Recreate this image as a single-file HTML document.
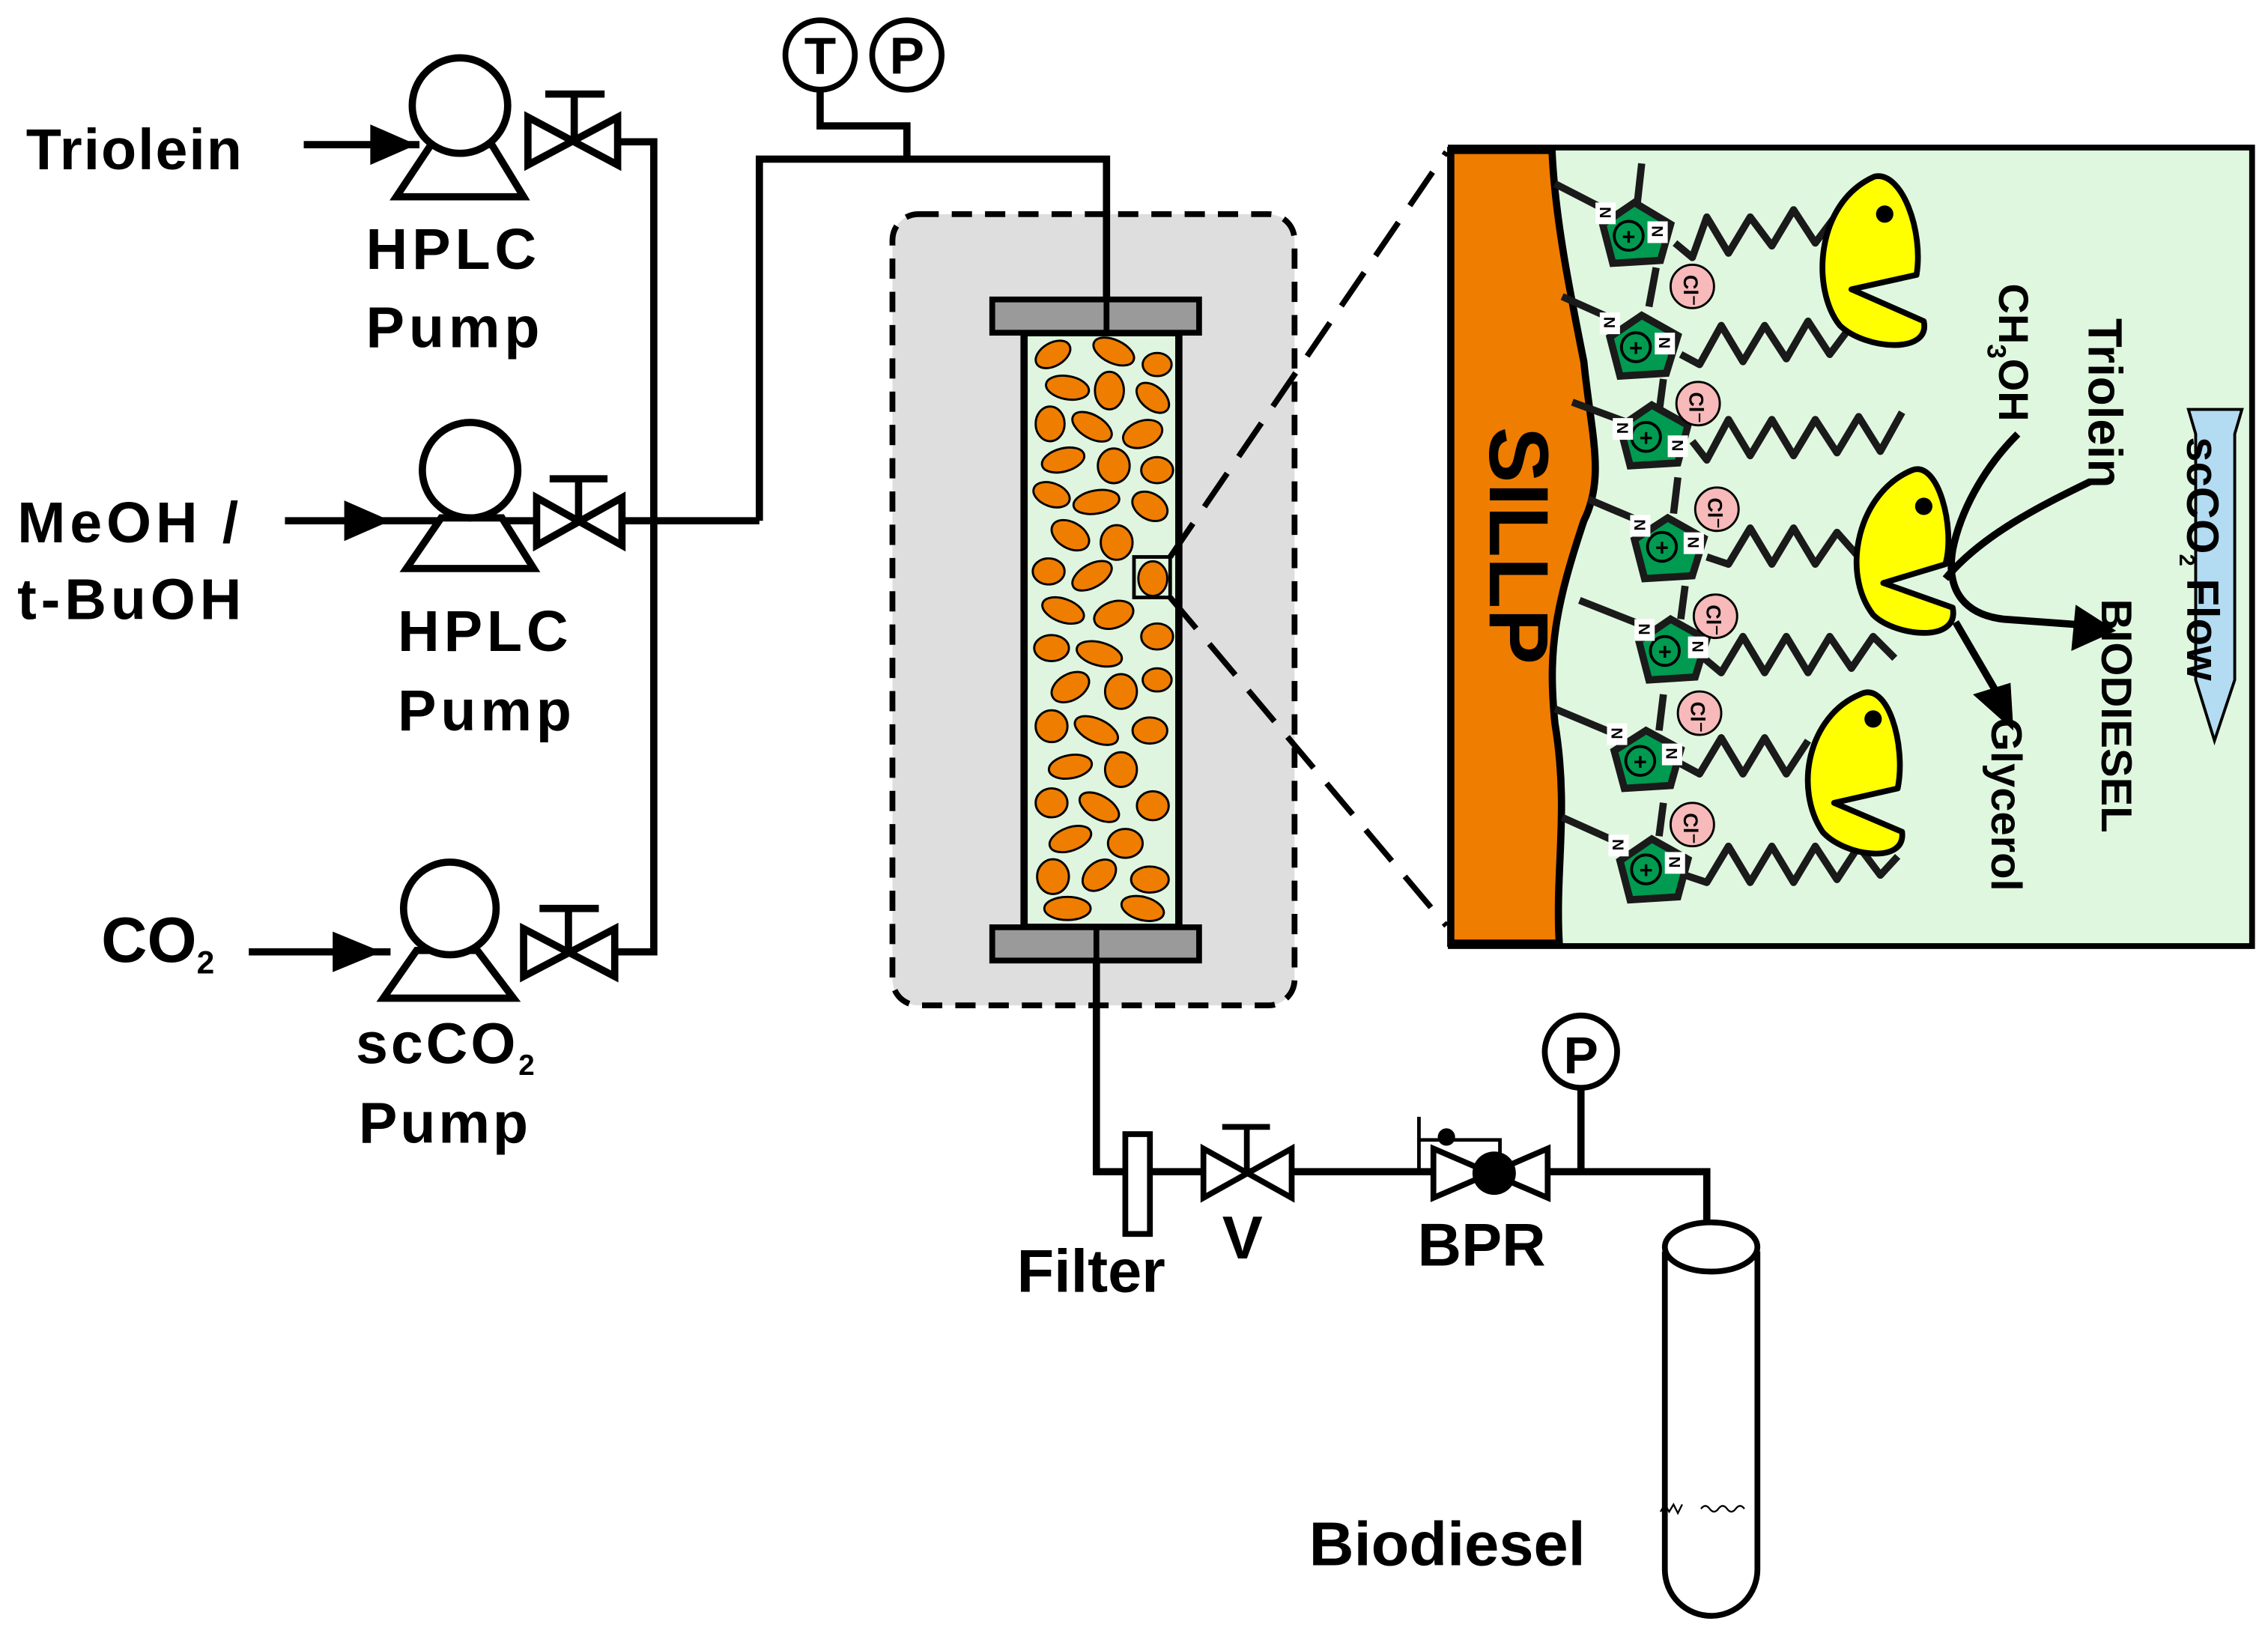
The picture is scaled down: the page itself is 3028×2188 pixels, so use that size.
<!DOCTYPE html>
<html><head><meta charset="utf-8"><style>
html,body{margin:0;padding:0;background:#fff;}
svg{display:block;}
text{font-family:"Liberation Sans",Arial,sans-serif;font-weight:bold;fill:#000;}
</style></head><body>
<svg width="3028" height="2188" viewBox="0 0 1568 1133" xmlns="http://www.w3.org/2000/svg">
<g fill="none" stroke="#000" stroke-width="5" stroke-linejoin="miter">
<line x1="210" y1="100" x2="290" y2="100"/>
<line x1="197" y1="360" x2="525" y2="360"/>
<line x1="172" y1="658" x2="270" y2="658"/>
<polyline points="425,98 452,98 452,658 425,658"/>
<polyline points="525,360 525,110 765,110 765,150"/>
<polyline points="567,62 567,87 627,87 627,110"/>
</g>
<g fill="#000">
<polygon points="256,86 288,100 256,114"/>
<polygon points="238,346 270,360 238,374"/>
<polygon points="230,644 264,658 230,672"/>
</g>
<g fill="#fff" stroke="#000" stroke-width="5">
<polygon points="298,100 340,100 362,136 274,136"/>
<circle cx="318" cy="73" r="33"/>
<polygon points="305,358 347,358 369,393 281,393"/>
<circle cx="325" cy="325" r="33"/>
<polygon points="288,657 330,657 355,690 265,690"/>
<circle cx="311" cy="628" r="32"/>
<polygon points="365,81 427,114 427,81 365,114"/>
<polygon points="371,344 430,377 430,344 371,377"/>
<polygon points="362,642 425,675 425,642 362,675"/>
</g>
<g stroke="#000" stroke-width="5" fill="none">
<path d="M397,97V65M377,65H418"/>
<path d="M400,360V331M380,331H420"/>
<path d="M393,658V628M373,628H414"/>
</g>
<text x="18" y="117" font-size="40" letter-spacing="1">Triolein</text>
<text x="253" y="186" font-size="40" letter-spacing="3">HPLC</text>
<text x="253" y="240" font-size="40" letter-spacing="3">Pump</text>
<text x="12" y="375" font-size="40" letter-spacing="3">MeOH /</text>
<text x="12" y="428" font-size="40" letter-spacing="3">t-BuOH</text>
<text x="275" y="450" font-size="40" letter-spacing="3">HPLC</text>
<text x="275" y="505" font-size="40" letter-spacing="3">Pump</text>
<text x="70" y="665" font-size="44">CO<tspan font-size="22" dy="8">2</tspan></text>
<text x="246" y="735" font-size="40" letter-spacing="2">scCO<tspan font-size="20" dy="8">2</tspan></text>
<text x="248" y="790" font-size="40" letter-spacing="2">Pump</text>
<g fill="#fff" stroke="#000" stroke-width="4"><circle cx="567" cy="38" r="24"/><circle cx="627" cy="38" r="24"/></g>
<text x="567" y="51" font-size="36" text-anchor="middle">T</text>
<text x="627" y="51" font-size="36" text-anchor="middle">P</text>
<rect x="617" y="148" width="278" height="547" rx="18" fill="#dedede" stroke="#000" stroke-width="4" stroke-dasharray="14,9"/>
<line x1="765" y1="146" x2="765" y2="210" stroke="#000" stroke-width="5"/>
<rect x="708" y="230" width="107" height="411" fill="#dff5df" stroke="#000" stroke-width="5"/>
<g fill="#ef7d00" stroke="#000" stroke-width="1.5">
<ellipse cx="728" cy="245" rx="13" ry="8" transform="rotate(-30 728 245)"/>
<ellipse cx="770" cy="243" rx="15" ry="8" transform="rotate(25 770 243)"/>
<ellipse cx="800" cy="252" rx="10" ry="8"/>
<ellipse cx="738" cy="268" rx="15" ry="8" transform="rotate(10 738 268)"/>
<ellipse cx="767" cy="270" rx="10" ry="13"/>
<ellipse cx="797" cy="275" rx="13" ry="8" transform="rotate(40 797 275)"/>
<ellipse cx="726" cy="293" rx="10" ry="12"/>
<ellipse cx="755" cy="295" rx="15" ry="8" transform="rotate(30 755 295)"/>
<ellipse cx="790" cy="300" rx="14" ry="9" transform="rotate(-20 790 300)"/>
<ellipse cx="735" cy="318" rx="15" ry="8" transform="rotate(-15 735 318)"/>
<ellipse cx="770" cy="322" rx="11" ry="12"/>
<ellipse cx="800" cy="325" rx="11" ry="9"/>
<ellipse cx="727" cy="342" rx="13" ry="8" transform="rotate(20 727 342)"/>
<ellipse cx="758" cy="347" rx="16" ry="8" transform="rotate(-10 758 347)"/>
<ellipse cx="795" cy="350" rx="13" ry="9" transform="rotate(30 795 350)"/>
<ellipse cx="740" cy="370" rx="14" ry="9" transform="rotate(30 740 370)"/>
<ellipse cx="772" cy="375" rx="11" ry="12"/>
<ellipse cx="725" cy="395" rx="11" ry="9"/>
<ellipse cx="755" cy="398" rx="15" ry="8" transform="rotate(-30 755 398)"/>
<ellipse cx="797" cy="400" rx="10" ry="12"/>
<ellipse cx="735" cy="422" rx="15" ry="8" transform="rotate(20 735 422)"/>
<ellipse cx="770" cy="425" rx="14" ry="9" transform="rotate(-20 770 425)"/>
<ellipse cx="800" cy="440" rx="11" ry="9"/>
<ellipse cx="727" cy="448" rx="12" ry="9"/>
<ellipse cx="760" cy="452" rx="16" ry="8" transform="rotate(15 760 452)"/>
<ellipse cx="740" cy="475" rx="14" ry="9" transform="rotate(-30 740 475)"/>
<ellipse cx="775" cy="478" rx="11" ry="12"/>
<ellipse cx="800" cy="470" rx="10" ry="8"/>
<ellipse cx="727" cy="502" rx="11" ry="11"/>
<ellipse cx="758" cy="505" rx="16" ry="8" transform="rotate(25 758 505)"/>
<ellipse cx="795" cy="505" rx="12" ry="9"/>
<ellipse cx="740" cy="530" rx="15" ry="8" transform="rotate(-10 740 530)"/>
<ellipse cx="775" cy="532" rx="11" ry="12"/>
<ellipse cx="727" cy="555" rx="11" ry="10"/>
<ellipse cx="760" cy="558" rx="15" ry="8" transform="rotate(30 760 558)"/>
<ellipse cx="797" cy="557" rx="11" ry="10"/>
<ellipse cx="740" cy="580" rx="15" ry="8" transform="rotate(-20 740 580)"/>
<ellipse cx="778" cy="583" rx="12" ry="10"/>
<ellipse cx="728" cy="606" rx="11" ry="12"/>
<ellipse cx="760" cy="605" rx="13" ry="9" transform="rotate(-40 760 605)"/>
<ellipse cx="795" cy="608" rx="13" ry="9"/>
<ellipse cx="738" cy="628" rx="16" ry="8"/>
<ellipse cx="790" cy="628" rx="15" ry="8" transform="rotate(15 790 628)"/>
</g>
<rect x="686" y="207" width="143" height="23" fill="#9a9a9a" stroke="#000" stroke-width="4"/>
<rect x="686" y="641" width="143" height="23" fill="#9a9a9a" stroke="#000" stroke-width="4"/>
<line x1="765" y1="205" x2="765" y2="232" stroke="#000" stroke-width="4"/>
<line x1="758" y1="640" x2="758" y2="666" stroke="#000" stroke-width="4"/>
<rect x="784" y="385" width="25" height="28" fill="none" stroke="#000" stroke-width="2.5"/>
<g stroke="#000" stroke-width="4" stroke-dasharray="28,14" fill="none">
<line x1="809" y1="385" x2="1000" y2="105"/>
<line x1="809" y1="413" x2="1000" y2="640"/>
</g>
<g fill="none" stroke="#000" stroke-width="5">
<polyline points="758,664 758,810 990,810"/>
<polyline points="1070,810 1180,810 1180,845"/>
<line x1="1093" y1="752" x2="1093" y2="810"/>
</g>
<rect x="778" y="784" width="17" height="69" fill="#fff" stroke="#000" stroke-width="4"/>
<polygon points="832,794 893,828 893,794 832,828" fill="#fff" stroke="#000" stroke-width="4"/>
<path d="M862,810V779M845,779H878" stroke="#000" stroke-width="4" fill="none"/>
<polygon points="991,794 1070,828 1070,794 991,828" fill="#fff" stroke="#000" stroke-width="4"/>
<circle cx="1033" cy="811" r="15" fill="#000"/>
<path d="M981,810V772M981,788H1037V800" stroke="#000" stroke-width="2.5" fill="none"/>
<circle cx="1000" cy="786" r="6" fill="#000"/>
<circle cx="1093" cy="727" r="25" fill="#fff" stroke="#000" stroke-width="4"/>
<text x="1093" y="742" font-size="36" text-anchor="middle">P</text>
<path d="M1151,865V1085A32,32 0 0 0 1215,1085V865" fill="#fff" stroke="#000" stroke-width="4"/>
<ellipse cx="1183" cy="862" rx="32" ry="17" fill="#fff" stroke="#000" stroke-width="4"/>
<path d="M1148,1045l3,-5 3,5 3,-5 3,6 3,-6 M1176,1043q3,-4 6,0t6,0 6,0 6,0 6,0" stroke="#000" stroke-width="1.2" fill="none"/>
<text x="703" y="893" font-size="42">Filter</text>
<text x="845" y="870" font-size="42">V</text>
<text x="980" y="875" font-size="42">BPR</text>
<text x="905" y="1082" font-size="43">Biodiesel</text>
<rect x="1003" y="102" width="554" height="552" fill="#dff7df" stroke="#000" stroke-width="4"/>
<path d="M1003,104 L1073,104 C1075,150 1085,200 1095,250 C1100,300 1110,330 1095,360 C1075,420 1070,450 1075,500 C1085,560 1075,600 1078,652 L1003,652 Z" fill="#ef7d00" stroke="#000" stroke-width="5"/>
<text transform="translate(1030,295) rotate(90)" font-size="58">SILLP</text>
<g stroke="#1a1a1a" stroke-width="5" fill="none" stroke-linejoin="round">
<path d="M1075,127L1110,145M1135,113L1132,140"/>
<path d="M1080,205L1118,222M1145,185L1140,212"/>
<path d="M1087,278L1125,292M1150,262L1147,285"/>
<path d="M1098,345L1138,362M1160,330L1157,355"/>
<path d="M1092,415L1135,432M1165,405L1162,428"/>
<path d="M1075,490L1118,508M1150,480L1147,505"/>
<path d="M1080,565L1120,583M1150,555L1147,578"/>
<polyline points="1158,168 1170,178 1180,150 1195,175 1210,150 1225,170 1240,145 1255,168 1270,148"/>
<polyline points="1162,245 1175,252 1190,225 1205,250 1220,225 1235,248 1250,222 1265,245 1280,225"/>
<polyline points="1170,305 1180,318 1195,290 1210,315 1225,290 1240,315 1255,290 1270,313 1285,288 1300,312 1315,285"/>
<polyline points="1180,385 1195,390 1210,365 1225,390 1240,365 1255,390 1270,368 1285,385"/>
<polyline points="1178,455 1190,465 1205,440 1220,465 1235,440 1250,465 1265,440 1280,462 1295,440 1310,455"/>
<polyline points="1162,528 1175,535 1190,510 1205,535 1220,510 1235,535 1250,512"/>
<polyline points="1165,605 1180,610 1195,585 1210,610 1225,585 1240,610 1255,585 1270,608 1285,585 1300,605 1312,592"/>
</g>
<g fill="#009a50" stroke="#1a1a1a" stroke-width="5">
<polygon points="1130,140 1155,155 1148,180 1115,182 1108,155"/>
<polygon points="1135,218 1160,232 1152,258 1120,260 1113,233"/>
<polygon points="1142,280 1167,294 1160,320 1127,322 1120,295"/>
<polygon points="1153,358 1178,372 1170,398 1137,400 1130,373"/>
<polygon points="1155,428 1180,442 1172,468 1140,470 1133,443"/>
<polygon points="1138,505 1162,518 1155,543 1123,545 1116,519"/>
<polygon points="1142,580 1167,594 1160,620 1127,622 1120,595"/>
</g>
<g fill="none" stroke="#000" stroke-width="2">
<circle cx="1126" cy="163" r="10"/><circle cx="1131" cy="240" r="10"/><circle cx="1138" cy="302" r="10"/>
<circle cx="1149" cy="378" r="10"/><circle cx="1151" cy="450" r="10"/><circle cx="1134" cy="526" r="10"/><circle cx="1138" cy="601" r="10"/>
</g>
<g font-size="16" text-anchor="middle">
<text x="1126" y="169">+</text><text x="1131" y="246">+</text><text x="1138" y="308">+</text>
<text x="1149" y="384">+</text><text x="1151" y="456">+</text><text x="1134" y="532">+</text><text x="1138" y="607">+</text>
</g>
<g fill="#fff"><rect x="1103" y="140" width="14" height="15"/><rect x="1139" y="153" width="14" height="15"/>
<rect x="1106" y="216" width="14" height="15"/><rect x="1144" y="230" width="14" height="15"/>
<rect x="1115" y="289" width="14" height="15"/><rect x="1153" y="301" width="14" height="15"/>
<rect x="1127" y="356" width="14" height="15"/><rect x="1164" y="368" width="14" height="15"/>
<rect x="1130" y="428" width="14" height="15"/><rect x="1167" y="440" width="14" height="15"/>
<rect x="1111" y="500" width="14" height="15"/><rect x="1149" y="514" width="14" height="15"/>
<rect x="1112" y="577" width="14" height="15"/><rect x="1151" y="589" width="14" height="15"/></g>
<g font-size="11"><text transform="translate(1106,143) rotate(90)">N</text><text transform="translate(1142,156) rotate(90)">N</text>
<text transform="translate(1109,219) rotate(90)">N</text><text transform="translate(1147,233) rotate(90)">N</text>
<text transform="translate(1118,292) rotate(90)">N</text><text transform="translate(1156,304) rotate(90)">N</text>
<text transform="translate(1130,359) rotate(90)">N</text><text transform="translate(1167,371) rotate(90)">N</text>
<text transform="translate(1133,431) rotate(90)">N</text><text transform="translate(1170,443) rotate(90)">N</text>
<text transform="translate(1114,503) rotate(90)">N</text><text transform="translate(1152,517) rotate(90)">N</text>
<text transform="translate(1115,580) rotate(90)">N</text><text transform="translate(1154,592) rotate(90)">N</text></g>
<g fill="#f7b9b9" stroke="#000" stroke-width="1.5">
<circle cx="1170" cy="198" r="15"/><circle cx="1174" cy="279" r="15"/><circle cx="1187" cy="352" r="15"/>
<circle cx="1186" cy="426" r="15"/><circle cx="1175" cy="493" r="15"/><circle cx="1170" cy="570" r="15"/>
</g>
<g font-size="14" font-weight="normal">
<text transform="translate(1164,190) rotate(90)">Cl⁻</text><text transform="translate(1168,271) rotate(90)">Cl⁻</text>
<text transform="translate(1181,344) rotate(90)">Cl⁻</text><text transform="translate(1180,418) rotate(90)">Cl⁻</text>
<text transform="translate(1169,485) rotate(90)">Cl⁻</text><text transform="translate(1164,562) rotate(90)">Cl⁻</text>
</g>
<g fill="#ffff00" stroke="#000" stroke-width="4" stroke-linejoin="round">
<path d="M1296,122 C1315,118 1330,160 1325,190 L1280,200 L1330,222 C1335,245 1290,242 1272,225 C1252,200 1255,140 1296,122 Z"/>
<path d="M1322,325 C1340,318 1352,365 1345,390 L1302,403 L1350,420 C1355,445 1310,440 1295,425 C1272,395 1285,340 1322,325 Z"/>
<path d="M1286,480 C1305,470 1318,515 1312,545 L1268,555 L1315,575 C1318,598 1275,592 1260,575 C1240,545 1250,495 1286,480 Z"/>
</g>
<g fill="#000"><circle cx="1303" cy="148" r="6"/><circle cx="1330" cy="350" r="6"/><circle cx="1295" cy="497" r="6"/></g>
<g fill="none" stroke="#000" stroke-width="5">
<path d="M1395,300 C1370,325 1355,355 1350,380 C1345,410 1360,425 1385,428 L1440,432"/>
<path d="M1445,333 C1410,350 1370,370 1345,400"/>
<path d="M1352,430 L1380,478"/>
</g>
<polygon points="1435,418 1463,436 1432,450" fill="#000"/>
<polygon points="1364,480 1390,472 1392,505" fill="#000"/>
<polygon points="1513,283 1550,283 1545,300 1545,470 1531,512 1518,470 1518,300" fill="#b3dcf2" stroke="#000" stroke-width="2"/>
<text transform="translate(1512,302) rotate(90)" font-size="31">scCO<tspan font-size="15" dy="5">2</tspan><tspan dy="-5"> Flow</tspan></text>
<text transform="translate(1382,196) rotate(90)" font-size="29" font-weight="normal">CH<tspan font-size="18" dy="8">3</tspan><tspan dy="-8">OH</tspan></text>
<text transform="translate(1444,220) rotate(90)" font-size="33" font-weight="normal">Triolein</text>
<text transform="translate(1453,414) rotate(90)" font-size="30" font-weight="normal">BIODIESEL</text>
<text transform="translate(1377,496) rotate(90)" font-size="30" font-weight="normal">Glycerol</text>
</svg>
</body></html>
